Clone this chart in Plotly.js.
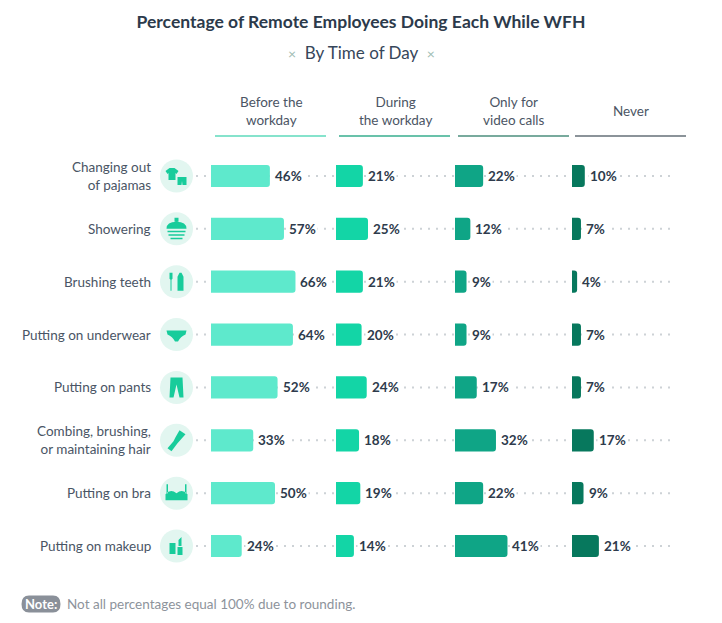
<!DOCTYPE html>
<html>
<head>
<meta charset="utf-8">
<script src="https://cdn.plot.ly/plotly-3.0.1.min.js"></script>
<style>
  html, body { margin: 0; padding: 0; background: #fff; }
  #chart { width: 722px; height: 623px; }
</style>
</head>
<body>
<div id="chart"></div>
<script>
// chart data
const activities = [
    'Changing out<br>of pajamas',
    'Showering',
    'Brushing teeth',
    'Putting on underwear',
    'Putting on pants',
    'Combing, brushing,<br>or maintaining hair',
    'Putting on bra',
    'Putting on makeup'
];
const columns = ['Before the<br>workday', 'During<br>the workday', 'Only for<br>video calls', 'Never'];
const beforeWorkday = [46, 57, 66, 64, 52, 33, 50, 24];
const duringWorkday = [21, 25, 21, 20, 24, 18, 19, 14];
const videoCalls = [22, 12, 9, 9, 17, 32, 22, 41];
const never = [10, 7, 4, 7, 7, 17, 9, 21];

const W = 722, H = 623;
const px = v => v / W;          // pixel -> paper x
const py = v => 1 - v / H;      // pixel -> paper y

const barColors = ['#5ee9cc', '#13d5a6', '#0fa586', '#07785d'];
const lineColors = ['#86e3cc', '#69c2aa', '#78aa9d', '#8b9399'];
const colStart = [211, 336, 455, 572];   // bar zero, px
const colWidth = 112;
const xMax = colWidth / 1.28;
const textDark = '#2e3b4c';
const font = 'Lato, "Open Sans", sans-serif';

// simple icon outlines, pixels relative to circle centre (y up)
const icons = [
    'M-11,5 L-7,8 L-2,8 L2,5 L0,2 L-1,3 L-1,-4 L-8,-4 L-8,3 L-9,2 Z M1,-1 L10,-1 L10,-9 L6,-9 L5.5,-5 L5,-9 L1,-9 Z',
    'M-2,11 L2,11 L2,7 L-2,7 Z M-10,0 Q-10,7 0,7 Q10,7 10,0 Z M-9,-2 L9,-2 L9,-3.5 L-9,-3.5 Z M-8,-5.5 L8,-5.5 L8,-7 L-8,-7 Z M-6,-9 L6,-9 L6,-10.5 L-6,-10.5 Z',
    'M-7,9 L-4,9 L-4,3 L-5,2 L-5,-9 L-6,-9 L-6,2 L-7,3 Z M1,5 L3,9 L5,9 L7,5 L7,-9 L1,-9 Z',
    'M-10,4 L10,4 L9,0 Q4,-2 1.5,-7 L-1.5,-7 Q-4,-2 -9,0 Z',
    'M-6,10 L6,10 L7,-10 L3,-10 L0,3 L-3,-10 L-7,-10 Z',
    'M3,10 L9,6 L1,-3 L-5,-11 L-9,-8 L-3,-1 L-1,3 Z',
    'M-11,-1 Q-6,5 0,0 Q6,5 11,-1 L11,-7 L-11,-7 Z M-10,0 L-10,9 L-8.5,9 L-8.5,0 Z M8.5,0 L8.5,9 L10,9 L10,0 Z',
    'M-7,3 L-1,3 L-1,-8 L-7,-8 Z M2,6 L5,9 L5,0 L2,0 Z M1,-1 L6,-1 L6,-9 L1,-9 Z'
];

const series = [beforeWorkday, duringWorkday, videoCalls, never];
const axisIds = ['x', 'x2', 'x3', 'x4'];

const traces = series.map((vals, c) => ({
    type: 'bar',
    orientation: 'h',
    x: vals,
    y: activities,
    xaxis: axisIds[c],
    yaxis: 'y',
    width: 0.42,
    marker: { color: barColors[c], line: { width: 0 } },
    hoverinfo: 'skip'
}));

const shapes = [];
const annotations = [];

activities.forEach((act, i) => {
    // dotted guide behind the row
    shapes.push({
        type: 'line', xref: 'paper', yref: 'y', layer: 'below',
        x0: px(196), x1: px(672), y0: act, y1: act,
        line: { color: '#cdd2d6', width: 2, dash: '2px,6px' }
    });
    // icon circle and glyph
    shapes.push({
        type: 'circle', xref: 'paper', yref: 'y', layer: 'above',
        xsizemode: 'pixel', ysizemode: 'pixel', xanchor: px(176.5), yanchor: act,
        x0: -16.5, x1: 16.5, y0: -16.5, y1: 16.5,
        fillcolor: '#e2f6f0', line: { width: 0 }
    });
    shapes.push({
        type: 'path', xref: 'paper', yref: 'y', layer: 'above',
        xsizemode: 'pixel', ysizemode: 'pixel', xanchor: px(176.5), yanchor: act,
        path: icons[i], fillcolor: '#18cc9b', line: { width: 0 }
    });
    // category label
    annotations.push({
        xref: 'paper', yref: 'y', x: px(153), y: act,
        xanchor: 'right', yanchor: 'middle', align: 'right', showarrow: false,
        text: act, font: { family: font, size: 13.5, color: '#4a5565' }
    });
    // value labels
    series.forEach((vals, c) => {
        annotations.push({
            xref: axisIds[c], yref: 'y', x: vals[i], y: act,
            xanchor: 'left', yanchor: 'middle', xshift: 3, showarrow: false,
            bgcolor: '#ffffff', borderpad: 1,
            text: vals[i] + '%',
            font: { family: font, size: 13.5, color: textDark, weight: 700 }
        });
    });
});

// column headers with underlines
columns.forEach((col, c) => {
    const left = colStart[c] + 4 - (c === 0 ? 0 : 1);
    annotations.push({
        xref: 'paper', yref: 'paper', x: px(left + 56), y: py(111.5),
        xanchor: 'center', yanchor: 'middle', showarrow: false,
        text: col, font: { family: font, size: 13.5, color: '#4b5564' }
    });
    shapes.push({
        type: 'line', xref: 'paper', yref: 'paper',
        x0: px(left), x1: px(left + 111), y0: py(136), y1: py(136),
        line: { color: lineColors[c], width: 2 }
    });
});

// subtitle
annotations.push({
    xref: 'paper', yref: 'paper', x: 0.5, y: py(52),
    xanchor: 'center', yanchor: 'middle', showarrow: false,
    text: '<span style="color:#9dbcb2;font-size:14px">×</span>  By Time of Day  <span style="color:#9dbcb2;font-size:14px">×</span>',
    font: { family: font, size: 17, color: '#36465a' }
});

// footnote
shapes.push({
    type: 'path', xref: 'paper', yref: 'paper',
    xsizemode: 'pixel', ysizemode: 'pixel', xanchor: px(41), yanchor: py(604),
    path: 'M-12,8.5 L12,8.5 Q19.5,8.5 19.5,0 Q19.5,-8.5 12,-8.5 L-12,-8.5 Q-19.5,-8.5 -19.5,0 Q-19.5,8.5 -12,8.5 Z',
    fillcolor: '#8a9099', line: { width: 0 }
});
annotations.push({
    xref: 'paper', yref: 'paper', x: px(41), y: py(604),
    xanchor: 'center', yanchor: 'middle', showarrow: false,
    text: 'Note:', font: { family: font, size: 13, color: '#ffffff', weight: 700 }
});
annotations.push({
    xref: 'paper', yref: 'paper', x: px(65), y: py(604),
    xanchor: 'left', yanchor: 'middle', showarrow: false,
    text: 'Not all percentages equal 100% due to rounding.',
    font: { family: font, size: 13.5, color: '#8d939b' }
});

const layout = {
    width: W, height: H,
    margin: { l: 0, r: 0, t: 0, b: 0 },
    paper_bgcolor: '#ffffff', plot_bgcolor: 'rgba(0,0,0,0)',
    showlegend: false,
    barcornerradius: 3,
    title: {
        text: 'Percentage of Remote Employees Doing Each While WFH',
        x: 0.5, xanchor: 'center', y: py(22), yanchor: 'middle',
        font: { family: font, size: 17.5, color: '#2c3a4b', weight: 700 }
    },
    yaxis: {
        type: 'category', categoryorder: 'array', categoryarray: activities,
        range: [(H - 176) / 52.86, -176 / 52.86],
        visible: false, fixedrange: true
    },
    shapes: shapes,
    annotations: annotations
};
axisIds.forEach((id, c) => {
    const key = id === 'x' ? 'xaxis' : 'xaxis' + id.slice(1);
    layout[key] = {
        domain: [px(colStart[c]), px(colStart[c] + colWidth)],
        range: [0, xMax], anchor: 'y',
        visible: false, fixedrange: true
    };
});

Plotly.newPlot('chart', traces, layout, { displayModeBar: false, staticPlot: true });
</script>
</body>
</html>
